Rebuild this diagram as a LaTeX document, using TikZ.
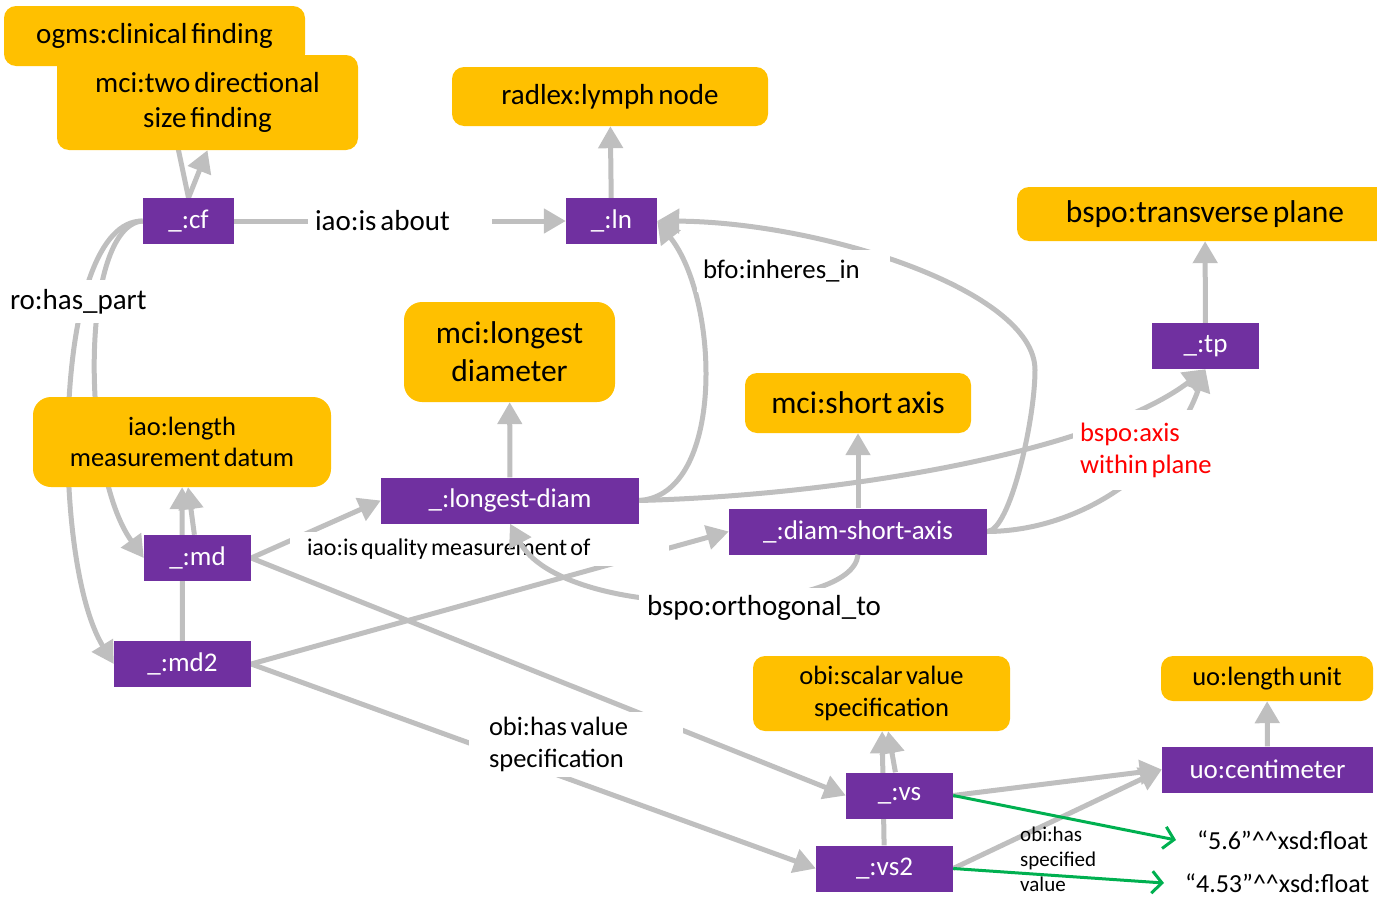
\documentclass[tikz,border=0pt]{standalone}
\usepackage{fontspec}
\setmainfont{Carlito}[WordSpace=0.6]
\usetikzlibrary{arrows.meta}
\definecolor{ybox}{HTML}{FFC000}
\definecolor{pbox}{HTML}{7030A0}
\definecolor{edgegray}{HTML}{BFBFBF}
\definecolor{greenarr}{HTML}{00B050}
\definecolor{redtxt}{HTML}{FF0000}
\pgfdeclarelayer{bg}
\pgfsetlayers{bg,main}
\newcommand{\fsz}[2]{\fontsize{#1}{#2}\selectfont}
\begin{document}
\begin{tikzpicture}[x=1pt,y=-1pt,
  cls/.style={fill=ybox, rounded corners=12pt, align=center, inner sep=0pt, text=black},
  inst/.style={fill=pbox, text=white, minimum height=46pt, inner sep=0pt, font={\fsz{27}{32}}},
  lbl/.style={fill=white, inner sep=0pt, align=flush left},
  garr/.style={draw=edgegray, line width=5pt, -{Triangle[length=22pt,width=24pt]}},
  grn/.style={draw=greenarr, line width=3pt, -{Straight Barb[length=10pt,width=22pt]}},
]
\useasboundingbox (0,0) rectangle (1377,897);

% class boxes
\node[cls, minimum width=301pt, minimum height=60pt, font={\fsz{29}{35}}] (ogms) at (154.5,36) {ogms:clinical finding};
\node[cls, minimum width=301pt, minimum height=95pt, font={\fsz{29}{35}}] (twodir) at (207.5,102.5) {mci:two directional\\size finding};
\node[cls, minimum width=316pt, minimum height=59pt, font={\fsz{29}{35}}] (radlex) at (610,96.5) {radlex:lymph node};
\node[cls, minimum width=376pt, minimum height=54pt, font={\fsz{31.5}{38}}] (tplane) at (1205,214) {bspo:transverse plane};
\node[cls, minimum width=211pt, minimum height=100pt, font={\fsz{31.5}{38}}, rounded corners=18pt] (ldiam) at (509.5,352) {mci:longest\\diameter};
\node[cls, minimum width=226pt, minimum height=60pt, font={\fsz{31.5}{38}}] (saxis) at (858,403) {mci:short axis};
\node[cls, minimum width=298pt, minimum height=90pt, font={\fsz{26.5}{31}}, rounded corners=18pt] (datum) at (182,442) {iao:length\\measurement datum};
\node[cls, minimum width=257pt, minimum height=75pt, font={\fsz{26.5}{32}}] (svs) at (881.5,693.5) {obi:scalar value\\specification};
\node[cls, minimum width=212pt, minimum height=45pt, font={\fsz{26.5}{32}}] (lunit) at (1267,678.5) {uo:length unit};

% instance boxes
\node[inst, minimum width=91pt] (cf) at (188.5,221) {\_:cf};
\node[inst, minimum width=91pt] (ln) at (611.5,221) {\_:ln};
\node[inst, minimum width=107pt] (tp) at (1205.5,346) {\_:tp};
\node[inst, minimum width=258pt] (ld) at (510,500.5) {\_:longest-diam};
\node[inst, minimum width=258pt] (dsa) at (858,531.5) {\_:diam-short-axis};
\node[inst, minimum width=107pt] (md) at (197.5,558) {\_:md};
\node[inst, minimum width=137pt] (md2) at (182.5,664) {\_:md2};
\node[inst, minimum width=107pt] (vs) at (899.5,795.5) {\_:vs};
\node[inst, minimum width=137pt] (vs2) at (884.5,868.5) {\_:vs2};
\node[inst, minimum width=211pt] (cm) at (1267.5,769.5) {uo:centimeter};

% literal values
\node[anchor=west, inner xsep=21pt, inner ysep=0pt, font={\fsz{26}{31}}] (v1) at (1176,840) {“5.6”\textasciicircum\textasciicircum xsd:float};
\node[anchor=west, inner xsep=21pt, inner ysep=0pt, font={\fsz{26}{31}}] (v2) at (1164,883) {“4.53”\textasciicircum\textasciicircum xsd:float};

% edges (under the boxes)
\begin{pgfonlayer}{bg}
\draw[garr] (cf.north) -- (ogms);
\draw[garr] (cf.north) -- (twodir.south);
\draw[garr] (cf) -- (ln);
\draw[garr] (ln) -- (radlex);
\draw[garr] (cf.west) .. controls (80,225) and (80,470) .. (md.west);
\draw[garr] (cf.west) .. controls (52,220) and (50,560) .. (md2.west);
\draw[garr] (md) -- (datum);
\draw[garr] (md2) -- (datum);
\draw[garr] (md.east) -- (ld.west);
\draw[garr] (md2.east) -- (dsa.west);
\draw[garr] (md.east) -- (vs.west);
\draw[garr] (md2.east) -- (vs2.west);
\draw[garr] (ld) -- (ldiam);
\draw[garr] (dsa) -- (saxis);
\draw[garr] (ld.east) .. controls (725,495) and (720,300) .. (ln.east);
\draw[garr] (dsa.east) .. controls (1010,531) and (1035,420) .. (1035,370) .. controls (1035,290) and (820,222) .. (ln.east);
\draw[garr] (ld.east) .. controls (850,495) and (1100,450) .. (tp.south);
\draw[garr] (dsa.east) .. controls (1080,531) and (1170,470) .. (tp.south);
\draw[garr] (tp) -- (tplane);
\draw[garr] (vs) -- (svs);
\draw[garr] (vs2) -- (svs);
\draw[garr] (vs.east) -- (cm.west);
\draw[garr] (vs2.east) -- (cm.west);
\draw[garr] (cm) -- (lunit);
\draw[grn] (vs.east) -- (v1.west);
\draw[grn] (vs2.east) -- (v2.west);
\end{pgfonlayer}

% edge labels
\node[lbl, font={\fsz{29}{35}}, text width=170pt, inner xsep=7pt, minimum height=36pt] (lisabout) at (400,221) {iao:is about};
\node[lbl, font={\fsz{29}{35}}, text width=140pt, inner xsep=6pt, minimum height=43pt] (lhaspart) at (80,301.5) {ro:has\_part};
\node[lbl, font={\fsz{26.8}{32}}, text width=181pt, inner xsep=6pt, minimum height=42pt] (linheres) at (793.5,271) {bfo:inheres\_in};
\node[lbl, font={\fsz{24}{29}}, text width=345pt, inner xsep=17pt, minimum height=34pt] (lquality) at (479.5,549) {iao:is quality measurement of};
\node[lbl, font={\fsz{26.6}{32}}, text width=145pt, inner xsep=7pt, minimum height=80pt, text=redtxt] (laxis) at (1152.5,450) {bspo:axis\\within plane};
\node[lbl, font={\fsz{26.5}{32}}, text width=174pt, inner xsep=20pt, minimum height=65pt] (lvalspec) at (576,744.5) {obi:has value\\specification};
\node[font={\fsz{21}{25}}, align=left, anchor=west, inner sep=5pt] (lspecval) at (1015,859) {obi:has\\specified\\value};

% orthogonal_to edge drawn over the quality label
\draw[garr] (dsa.south) .. controls (855,585) and (790,600) .. (720,602) .. controls (620,604) and (540,580) .. (ld.south);
\node[lbl, font={\fsz{29}{35}}, text width=235pt, inner xsep=8pt, minimum height=40pt] (lortho) at (764.5,608) {bspo:orthogonal\_to};
\end{tikzpicture}
\end{document}
